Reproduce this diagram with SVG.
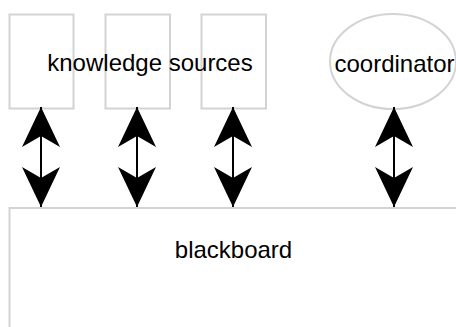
<svg xmlns="http://www.w3.org/2000/svg" width="456" height="327" viewBox="0 0 456 327">
  <style>
    .shape { fill: none; stroke: #d3d3d3; stroke-width: 2; }
    .label { font-family: "Liberation Sans", Arial, sans-serif; font-size: 24px; fill: #000; text-anchor: middle; }
    .conn { stroke: #000; stroke-width: 2; fill: none; marker-start: url(#head); marker-end: url(#head); }
  </style>
  <defs>
    <marker id="head" viewBox="0 0 40 38" refX="40" refY="19" markerWidth="40" markerHeight="38" markerUnits="userSpaceOnUse" orient="auto-start-reverse">
      <path d="M40,19 L0,0 L11,19 L0,38 Z" fill="#000"/>
    </marker>
  </defs>
  <rect width="456" height="327" fill="#fff"/>
  <g id="ks1"><rect class="shape" x="9.5" y="14.5" width="64" height="94"/></g>
  <g id="ks2"><rect class="shape" x="105.5" y="14.5" width="64.5" height="94"/></g>
  <g id="ks3"><rect class="shape" x="201.5" y="14.5" width="64.5" height="94"/></g>
  <g id="ks-label"><text class="label" x="150" y="71">knowledge sources</text></g>
  <g id="coordinator">
    <ellipse class="shape" cx="393" cy="61.5" rx="63" ry="47.5"/>
    <text class="label" x="394.5" y="71.5">coordinator</text>
  </g>
  <g id="blackboard">
    <rect class="shape" x="9.5" y="208" width="460" height="130"/>
    <text class="label" x="233.5" y="258">blackboard</text>
  </g>
  <g id="connectors">
    <path class="conn" d="M41,107 L41,207"/>
    <path class="conn" d="M137,107 L137,207"/>
    <path class="conn" d="M233,107 L233,207"/>
    <path class="conn" d="M394,107 L394,207"/>
  </g>
</svg>
